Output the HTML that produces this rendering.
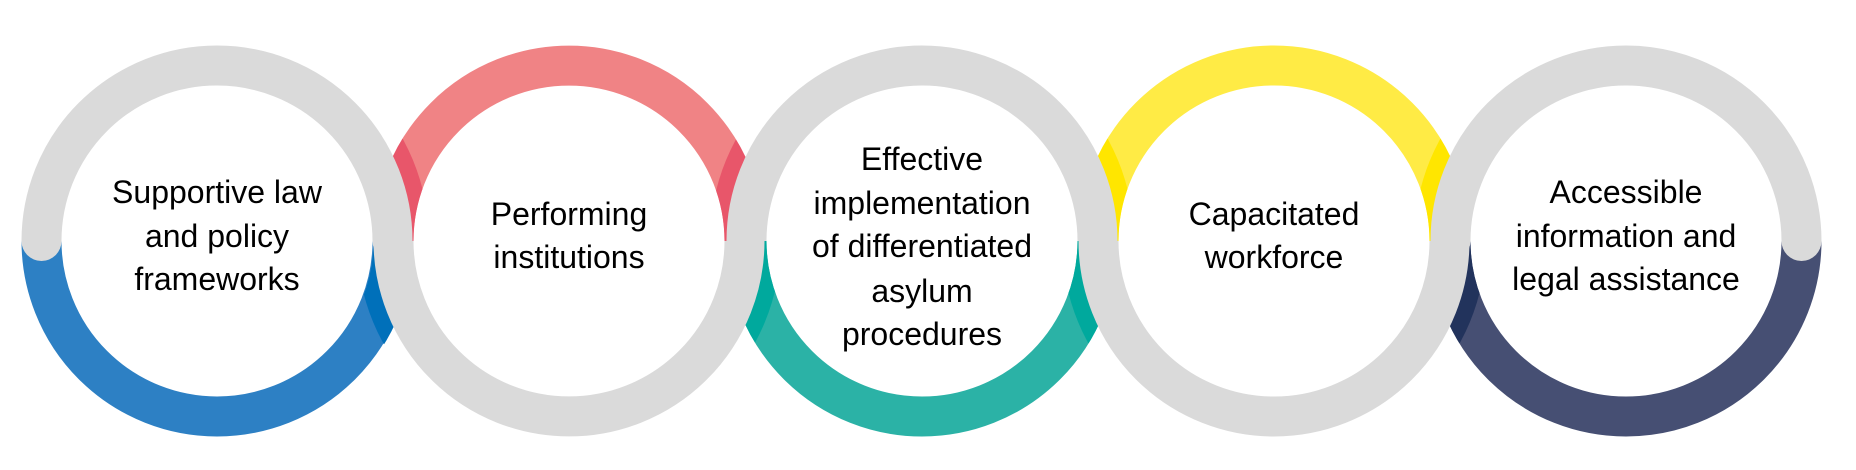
<!DOCTYPE html>
<html><head><meta charset="utf-8"><style>
html,body{margin:0;padding:0;background:#fff;}
svg{display:block;}
text{font-family:"Liberation Sans",sans-serif;font-size:32px;fill:#000;text-anchor:middle;}
</style></head><body>
<svg width="1856" height="470" viewBox="0 0 1856 470" xmlns="http://www.w3.org/2000/svg">
<defs>
<clipPath id="s1"><circle cx="217" cy="241" r="212"/></clipPath>
<clipPath id="s2"><circle cx="569" cy="241" r="212"/></clipPath>
<clipPath id="s3"><circle cx="922" cy="241" r="212"/></clipPath>
<clipPath id="s4"><circle cx="1274" cy="241" r="212"/></clipPath>
<clipPath id="s5"><circle cx="1626" cy="241" r="212"/></clipPath>
</defs>
<g fill="none" stroke-width="40">
<!-- colored arcs -->
<path d="M392.5 241 A175.5 175.5 0 0 1 41.5 241" stroke="#2D80C4"/>
<path d="M393.5 241 A175.5 175.5 0 0 1 41.5 241" stroke="#0070BA" clip-path="url(#s2)"/>
<path d="M393.5 241 A175.5 175.5 0 0 1 744.5 241" stroke="#F08385"/>
<path d="M393.5 241 A175.5 175.5 0 0 1 744.5 241" stroke="#E8566A" clip-path="url(#s1)"/>
<path d="M393.5 241 A175.5 175.5 0 0 1 744.5 241" stroke="#E8566A" clip-path="url(#s3)"/>
<path d="M1097.5 241 A175.5 175.5 0 0 1 746.5 241" stroke="#2BB2A6"/>
<path d="M1097.5 241 A175.5 175.5 0 0 1 746.5 241" stroke="#00A99D" clip-path="url(#s2)"/>
<path d="M1097.5 241 A175.5 175.5 0 0 1 746.5 241" stroke="#00A99D" clip-path="url(#s4)"/>
<path d="M1098.5 241 A175.5 175.5 0 0 1 1449.5 241" stroke="#FFEB45"/>
<path d="M1098.5 241 A175.5 175.5 0 0 1 1449.5 241" stroke="#FFE600" clip-path="url(#s3)"/>
<path d="M1098.5 241 A175.5 175.5 0 0 1 1449.5 241" stroke="#FFE600" clip-path="url(#s5)"/>
<path d="M1801.5 241 A175.5 175.5 0 0 1 1450.5 241" stroke="#464F73"/>
<path d="M1801.5 241 A175.5 175.5 0 0 1 1450.5 241" stroke="#22335C" clip-path="url(#s4)"/>
<!-- gray arcs -->
<path d="M41.5 241 A175.5 175.5 0 0 1 392.5 241" stroke="#DADADA" stroke-linecap="round"/>
<path d="M744.5 241 A175.5 175.5 0 0 1 393.5 241" stroke="#DADADA"/>
<path d="M746.5 241 A175.5 175.5 0 0 1 1097.5 241" stroke="#DADADA"/>
<path d="M1449.5 241 A175.5 175.5 0 0 1 1098.5 241" stroke="#DADADA"/>
<path d="M1450.5 241 A175.5 175.5 0 0 1 1801.5 241" stroke="#DADADA" stroke-linecap="round"/>
</g>
<text x="217" y="203">Supportive law</text>
<text x="217" y="247">and policy</text>
<text x="217" y="290">frameworks</text>
<text x="569" y="225">Performing</text>
<text x="569" y="268">institutions</text>
<text x="922" y="170">Effective</text>
<text x="922" y="214">implementation</text>
<text x="922" y="257">of differentiated</text>
<text x="922" y="302">asylum</text>
<text x="922" y="345">procedures</text>
<text x="1274" y="225">Capacitated</text>
<text x="1274" y="268">workforce</text>
<text x="1626" y="203">Accessible</text>
<text x="1626" y="247">information and</text>
<text x="1626" y="290">legal assistance</text>
</svg>
</body></html>
